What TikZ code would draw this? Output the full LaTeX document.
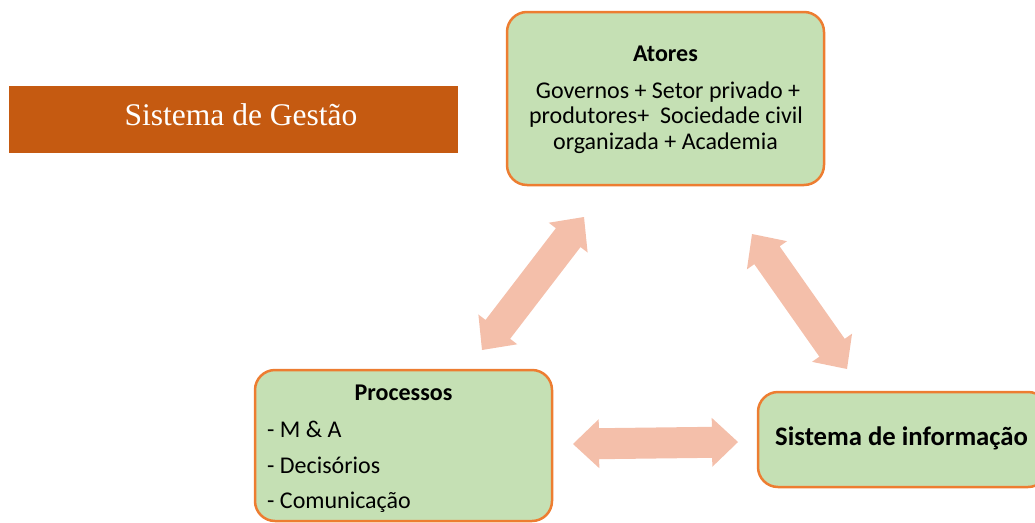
\documentclass[tikz,border=0pt]{standalone}
\usepackage{fontspec}
\setmainfont{Carlito}
\newfontfamily\titlefont{Liberation Serif}
\usetikzlibrary{calc}
\definecolor{boxfill}{HTML}{C5E0B4}
\definecolor{boxline}{HTML}{ED7D31}
\definecolor{titlefill}{HTML}{C55A11}
\definecolor{arrowfill}{HTML}{F4BFAA}
\newcommand\fatarrow[2]{%
 \fill[arrowfill] (#1) -- ($(#1)!26pt!(#2)!24.5pt!90:(#2)$) -- ($(#1)!26pt!(#2)!15.5pt!90:(#2)$)
 -- ($(#2)!26pt!(#1)!15.5pt!-90:(#1)$) -- ($(#2)!26pt!(#1)!24.5pt!-90:(#1)$) -- (#2)
 -- ($(#2)!26pt!(#1)!24.5pt!90:(#1)$) -- ($(#2)!26pt!(#1)!15.5pt!90:(#1)$)
 -- ($(#1)!26pt!(#2)!15.5pt!-90:(#2)$) -- ($(#1)!26pt!(#2)!24.5pt!-90:(#2)$) -- cycle;}
\tikzset{
  greenbox/.style={draw=boxline, fill=boxfill, line width=2.5pt, rounded corners=20pt, inner sep=0pt},
  titlebox/.style={fill=titlefill, inner sep=0pt},
  txt/.style={inner sep=0pt, anchor=base, font=\fontsize{24}{28}\selectfont},
  txtl/.style={txt, anchor=base west},
  bold/.style={font=\fontsize{24}{28}\selectfont\bfseries},
}
\begin{document}
\begin{tikzpicture}[x=1pt,y=-1pt]
\useasboundingbox (0,0) rectangle (1035,522);
\clip (0,0) rectangle (1035,522);
% title
\node[titlebox, minimum width=449pt, minimum height=67pt] (gestao) at (233.5,119.5) {};
\node[inner sep=0pt, anchor=base, text=white, font=\titlefont\fontsize{31.5}{36}\selectfont] (gestaotxt) at (241,125) {Sistema de Gestão};
% boxes
\node[greenbox, minimum width=317pt, minimum height=173pt] (atores) at (665.5,98.5) {};
\node[greenbox, minimum width=297pt, minimum height=151pt] (proc) at (403.5,445.5) {};
\node[greenbox, minimum width=290pt, minimum height=95pt] (sinfo) at (903,439.5) {};
% texts
\node[txt, bold] (atit) at (665.5,61) {Atores};
\node[txt] (al1) at (668,98) {Governos + Setor privado +};
\node[txt] (al2) at (666,123.5) {produtores+\ \ Sociedade civil};
\node[txt] (al3) at (665.5,149) {organizada + Academia};
\node[txt, bold] (ptit) at (403.5,400) {Processos};
\node[txtl] (p1) at (267,437) {- M \& A};
\node[txtl] (p2) at (267,473) {- Decisórios};
\node[txtl] (p3) at (267,508) {- Comunicação};
\node[txtl, font=\fontsize{26.7}{30}\selectfont\bfseries] (stxt) at (775,445) {Sistema de informação};
% arrows
\coordinate (a1s) at (482,350);
\coordinate (a1e) at (584,217);
\coordinate (a2s) at (752,234);
\coordinate (a2e) at (847,369);
\coordinate (a3s) at (573,444);
\coordinate (a3e) at (738,442);
\fatarrow{a1s}{a1e}
\fatarrow{a2s}{a2e}
\fatarrow{a3s}{a3e}
\end{tikzpicture}
\end{document}
